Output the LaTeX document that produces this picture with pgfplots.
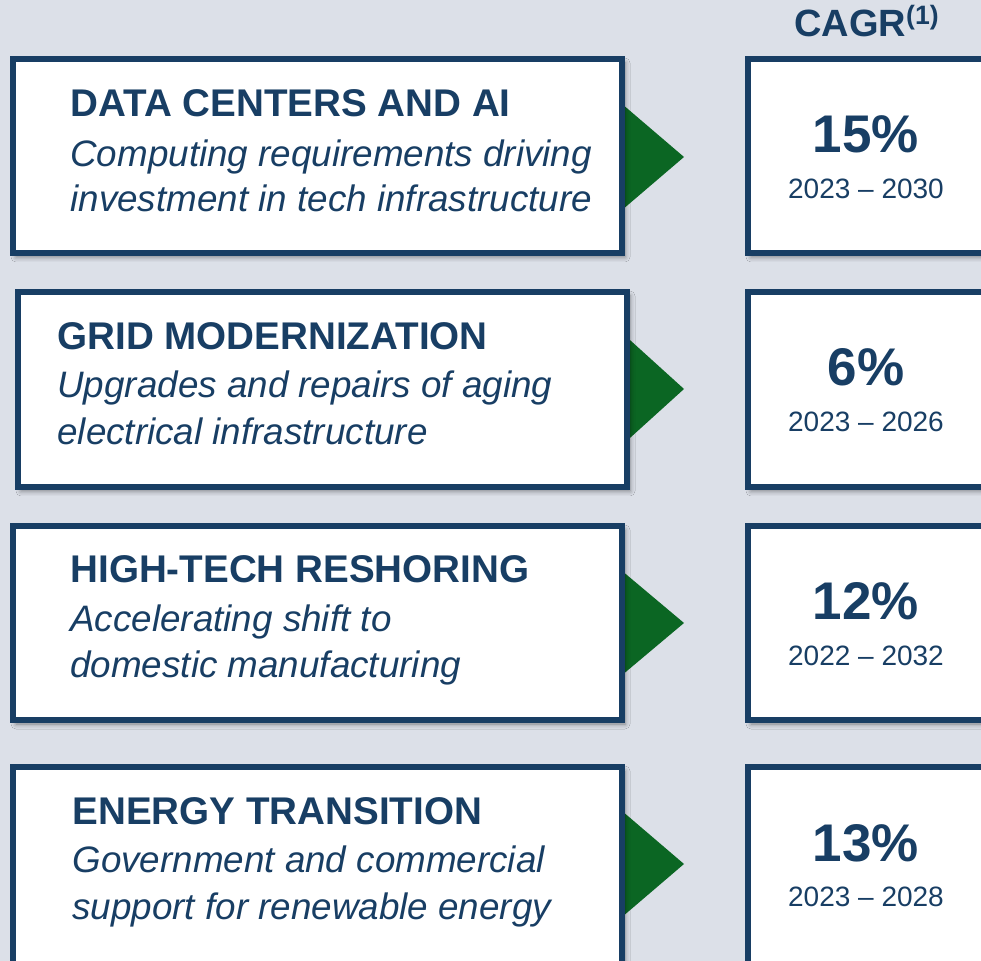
\documentclass[border=0pt]{standalone}
\usepackage{fontspec}
\setmainfont{Liberation Sans}
\usepackage{pgfplots}
\pgfplotsset{compat=1.18}
\usepackage{pgfplotstable}
\usetikzlibrary{shadows.blur}
\definecolor{navy}{HTML}{183E64}
\definecolor{arrowgreen}{HTML}{0B6623}
\definecolor{bg}{HTML}{DCE0E8}

% CAGR per segment: row baseline (px, from top), value, period
\pgfplotstableread[col sep=comma]{
ybase,cagr,yyear,period
153,15,199,2023 -- 2030
386,6,432,2023 -- 2026
620,12,666,2022 -- 2032
862,13,907,2023 -- 2028
}\cagrtable

\tikzset{
  card/.style={draw=navy,line width=3pt,fill=white,
    blur shadow={shadow xshift=1.5pt,shadow yshift=-2pt,shadow blur radius=2.5pt,shadow opacity=45}},
  ttl/.style={anchor=base west,inner sep=0pt,text=navy,font=\bfseries\fontsize{19.3}{22}\selectfont},
  sub/.style={anchor=base west,inner sep=0pt,text=navy,font=\itshape\fontsize{18.4}{22}\selectfont},
}

\begin{document}
\begin{tikzpicture}
\begin{axis}[
  width=490.5pt, height=480.5pt, scale only axis,
  xmin=0, xmax=981, ymin=0, ymax=961, y dir=reverse,
  axis lines=none, clip=false,
]
\fill[bg] (axis cs:0,0) rectangle (axis cs:981,961);

% arrows
\fill[arrowgreen] (axis cs:615,98) -- (axis cs:684,157) -- (axis cs:615,216) -- cycle;
\fill[arrowgreen] (axis cs:620,331) -- (axis cs:684,389) -- (axis cs:620,447) -- cycle;
\fill[arrowgreen] (axis cs:615,565) -- (axis cs:684,623) -- (axis cs:615,681) -- cycle;
\fill[arrowgreen] (axis cs:615,805) -- (axis cs:684,864) -- (axis cs:615,923) -- cycle;

% left cards
\draw[card] (axis cs:13,59) rectangle (axis cs:622,253);
\draw[card] (axis cs:18,292) rectangle (axis cs:627,487);
\draw[card] (axis cs:13,526) rectangle (axis cs:622,720);
\draw[card] (axis cs:13,767) rectangle (axis cs:622,985);
% right cards
\draw[card] (axis cs:748,59) rectangle (axis cs:1000,253);
\draw[card] (axis cs:748,292) rectangle (axis cs:1000,487);
\draw[card] (axis cs:748,526) rectangle (axis cs:1000,720);
\draw[card] (axis cs:748,767) rectangle (axis cs:1000,985);

\node[ttl] at (axis cs:70,117) {DATA CENTERS AND AI};
\node[sub] at (axis cs:70,167) {Computing requirements driving};
\node[sub] at (axis cs:70,212) {investment in tech infrastructure};

\node[ttl] at (axis cs:57,350) {GRID MODERNIZATION};
\node[sub] at (axis cs:57,398) {Upgrades and repairs of aging};
\node[sub] at (axis cs:57,445) {electrical infrastructure};

\node[ttl] at (axis cs:70,583) {HIGH-TECH RESHORING};
\node[sub] at (axis cs:70,632) {Accelerating shift to};
\node[sub] at (axis cs:70,678) {domestic manufacturing};

\node[ttl] at (axis cs:72,825) {ENERGY TRANSITION};
\node[sub] at (axis cs:72,873) {Government and commercial};
\node[sub] at (axis cs:72,920) {support for renewable energy};

\node[anchor=base,inner sep=0pt,text=navy,font=\bfseries\fontsize{19}{22}\selectfont]
  at (axis cs:867,37) {CAGR\textsuperscript{(1)}};

\addplot[draw=none, mark=none, point meta=explicit symbolic,
  nodes near coords={\pgfplotspointmeta\%},
  every node near coord/.append style={anchor=base,inner sep=0pt,text=navy,
    font=\bfseries\fontsize{26.5}{30}\selectfont}]
  table[x expr=866, y=ybase, meta=cagr] {\cagrtable};
\addplot[draw=none, mark=none, point meta=explicit symbolic,
  nodes near coords={\pgfplotspointmeta},
  every node near coord/.append style={anchor=base,inner sep=0pt,text=navy,
    font=\fontsize{14}{16}\selectfont}]
  table[x expr=866, y=yyear, meta=period] {\cagrtable};
\end{axis}
\pgfresetboundingbox
\useasboundingbox (current axis.south west) rectangle (current axis.north east);
\end{tikzpicture}
\end{document}
